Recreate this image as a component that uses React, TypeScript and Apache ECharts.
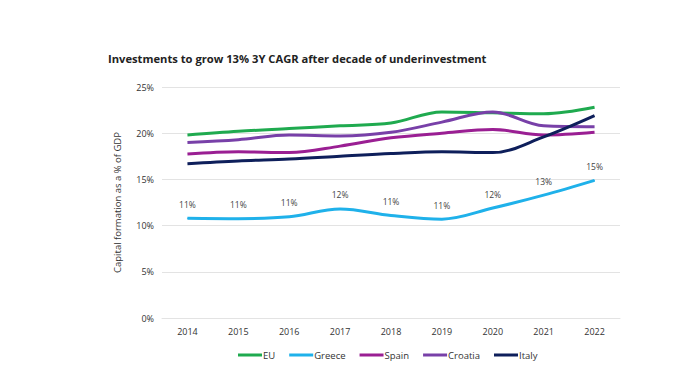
import React, { useEffect, useRef } from "react";
import * as echarts from "echarts";

const years = ["2014", "2015", "2016", "2017", "2018", "2019", "2020", "2021", "2022"];
const eu = [19.8, 20.2, 20.5, 20.8, 21.1, 22.3, 22.2, 22.1, 22.8];
const greece = [10.8, 10.75, 10.95, 11.8, 11.1, 10.7, 11.9, 13.3, 14.9];
const spain = [17.75, 18.0, 17.9, 18.6, 19.5, 20.0, 20.4, 19.8, 20.1];
const croatia = [19.0, 19.3, 19.8, 19.7, 20.1, 21.2, 22.3, 20.8, 20.7];
const italy = [16.7, 17.0, 17.2, 17.5, 17.8, 18.0, 17.9, 19.6, 21.9];

const seriesNames = ["EU", "Greece", "Spain", "Croatia", "Italy"];
const seriesColors = ["#1faa4f", "#1fb1ea", "#9a1f93", "#7840a8", "#0e1f5b"];

const FONT = "'Open Sans', 'DejaVu Sans', sans-serif";

export default function App() {
  const ref = useRef<HTMLDivElement>(null);
  useEffect(() => {
    if (!ref.current) return;
    const chart = echarts.init(ref.current, null, { renderer: "svg" });
    const data = [eu, greece, spain, croatia, italy];
    chart.setOption({
      animation: false,
      backgroundColor: "#ffffff",
      title: {
        text: "Investments to grow 13% 3Y CAGR after decade of underinvestment",
        left: 103,
        top: 48,
        textStyle: { fontFamily: FONT, fontSize: 11.2, fontWeight: "bold", color: "#222" },
      },
      grid: { left: 162, right: 71, top: 87, bottom: 67 },
      legend: {
        bottom: 20,
        left: 233,
        itemWidth: 24,
        itemHeight: 3,
        itemGap: 14,
        icon: "rect",
        textStyle: { fontFamily: FONT, fontSize: 9.5, color: "#333", padding: [0, 0, 0, -4] },
        data: seriesNames,
      },
      xAxis: {
        type: "category",
        data: years,
        boundaryGap: true,
        axisLine: { show: true, lineStyle: { color: "#e3e3e3" } },
        axisTick: { show: false },
        axisLabel: { fontFamily: FONT, fontSize: 9, color: "#333", margin: 9 },
      },
      yAxis: {
        type: "value",
        min: 0,
        max: 25,
        interval: 5,
        name: "Capital formation as a % of GDP",
        nameLocation: "middle",
        nameGap: 40,
        nameTextStyle: { fontFamily: FONT, fontSize: 9.5, color: "#333" },
        axisLine: { show: false },
        axisTick: { show: false },
        splitLine: { lineStyle: { color: "#e3e3e3" } },
        axisLabel: { fontFamily: FONT, fontSize: 9, color: "#333", formatter: "{value}%", margin: 8 },
      },
      series: seriesNames.map((n, i) => ({
        name: n,
        type: "line",
        data: data[i],
        smooth: 0.35,
        symbol: "circle",
        symbolSize: 1,
        showSymbol: n === "Greece",
        lineStyle: { width: 3, color: seriesColors[i] },
        itemStyle: { color: seriesColors[i] },
        z: n === "Greece" ? 3 : 2,
        label:
          n === "Greece"
            ? {
                show: true,
                position: "top",
                distance: 9,
                fontFamily: FONT,
                fontSize: 8.5,
                color: "#444",
                formatter: (p: any) => Math.round(p.value) + "%",
              }
            : { show: false },
      })),
    });
    return () => chart.dispose();
  }, []);
  return <div ref={ref} style={{ width: 691, height: 385, margin: -8 }} />;
}
